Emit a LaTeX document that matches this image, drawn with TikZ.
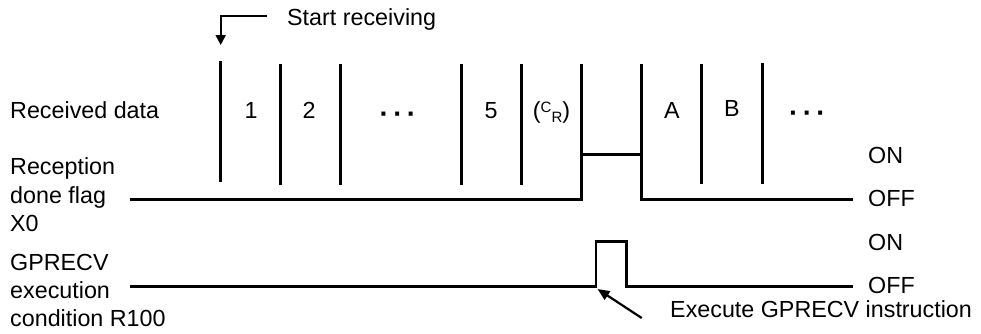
\documentclass[tikz,border=0pt]{standalone}
\usepackage{fontspec}
\setmainfont{Liberation Sans}
\usetikzlibrary{arrows.meta}
\begin{document}
\begin{tikzpicture}[x=1pt,y=-1pt,
  lbl/.style={inner sep=0pt, font=\fontsize{23.3}{28}\selectfont},
  dots/.style={inner sep=0pt, font=\fontsize{28}{30}\selectfont\bfseries},
  wave/.style={line width=2.7pt, line join=miter},
  bar/.style={line width=2.7pt},
  ptr/.style={line width=2pt, line join=miter, -{Triangle[length=10pt,width=10pt]}},
  ptrb/.style={line width=2.2pt, -{Triangle[length=12pt,width=10pt]}}]
\useasboundingbox (0,0) rectangle (981,333);

% left labels
\node[lbl,anchor=base west] (rd)  at (10,118) {Received data};
\node[lbl,anchor=base west] (rf1) at (10,174) {Reception};
\node[lbl,anchor=base west] (rf2) at (10,203) {done flag};
\node[lbl,anchor=base west] (rf3) at (10,231) {X0};
\node[lbl,anchor=base west] (gc1) at (10,270) {GPRECV};
\node[lbl,anchor=base west] (gc2) at (10,298) {execution};
\node[lbl,anchor=base west] (gc3) at (10,326) {condition R100};

% right labels
\node[lbl,anchor=base west] (on1)  at (868,163)   {ON};
\node[lbl,anchor=base west] (off1) at (868,206.5) {OFF};
\node[lbl,anchor=base west] (on2)  at (868,250)   {ON};
\node[lbl,anchor=base west] (off2) at (868,293)   {OFF};

% start receiving
\node[lbl,anchor=base west] (start) at (287,25) {Start receiving};
\coordinate (s0) at (267,16);
\coordinate (s1) at (220.7,16);
\coordinate (s2) at (220.7,45);
\draw[ptr] (s0) -- (s1) -- (s2);

% data separators
\draw[bar] (220.7,61) -- (220.7,182);
\draw[bar] (280.8,64) -- (280.8,185);
\draw[bar] (340.8,64) -- (340.8,185);
\draw[bar] (461.7,64) -- (461.7,185);
\draw[bar] (521.7,64) -- (521.7,185);
\draw[bar] (701.7,64) -- (701.7,184);
\draw[bar] (762.3,63) -- (762.3,184);

% data labels
\node[lbl,anchor=base] (d1) at (251,118) {1};
\node[lbl,anchor=base] (d2) at (309,118) {2};
\node[dots,anchor=base] (dd1) at (398,123.5) {·\hspace{4.3pt}·\hspace{4.3pt}·};
\node[lbl,anchor=base] (d5) at (491,118) {5};
\node[lbl,anchor=base] (dcr) at (551.5,118) {(\raisebox{6pt}{\fontsize{15}{15}\selectfont C}\raisebox{-4.5pt}{\fontsize{15}{15}\selectfont R})};
\node[lbl,anchor=base] (da) at (672,118) {A};
\node[lbl,anchor=base] (db) at (732,116) {B};
\node[dots,anchor=base] (dd2) at (807.5,122.5) {·\hspace{4.3pt}·\hspace{4.3pt}·};

% reception done flag X0
\draw[wave] (130,199.5) -- (581.7,199.5) -- (581.7,64);
\draw[wave] (581.7,154.5) -- (641.7,154.5);
\draw[wave] (641.7,64) -- (641.7,199.5) -- (853,199.5);

% GPRECV execution condition
\draw[wave] (130,286.7) -- (596,286.7) -- (596,241.7) -- (626.7,241.7) -- (626.7,286.7) -- (853,286.7);

% execute pointer
\node[lbl,anchor=base west] (exe) at (670,317) {Execute GPRECV instruction};
\coordinate (e0) at (641.7,318);
\coordinate (e1) at (597.5,289);
\draw[ptrb] (e0) -- (e1);
\end{tikzpicture}
\end{document}
